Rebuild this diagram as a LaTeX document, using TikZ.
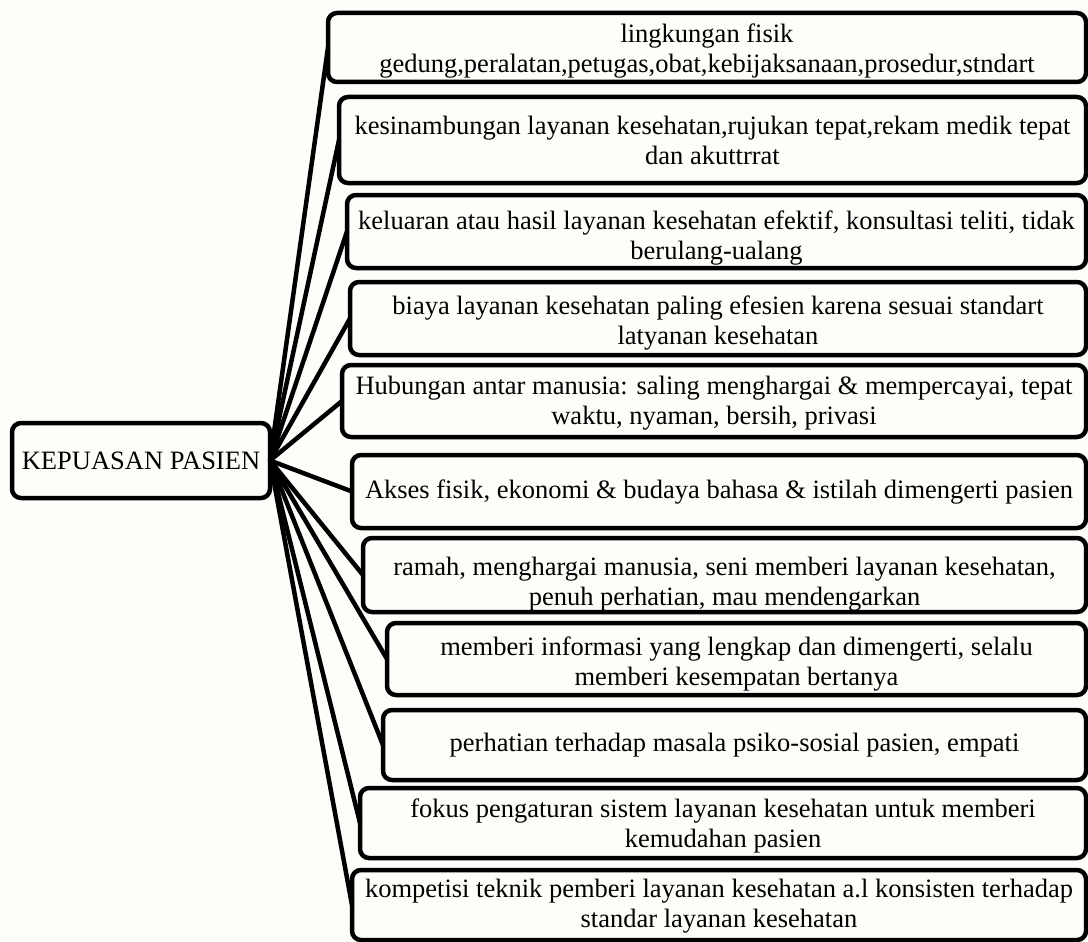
\documentclass[tikz,border=0pt]{standalone}
\usepackage{fontspec}
\setmainfont{Liberation Serif}
\definecolor{bgcream}{RGB}{253,253,249}
\begin{document}
\begin{tikzpicture}[x=1pt,y=-1pt,
  box/.style={draw=black, line width=4.5pt, rounded corners=9pt,
    inner sep=0pt, outer sep=0pt, anchor=west},
  txt/.style={align=center, inner sep=0pt, font=\fontsize{26.5}{30}\selectfont},
  link/.style={draw=black, line width=4.5pt}]
\clip (0,0) rectangle (1088,942);
\fill[bgcream] (0,0) rectangle (1088,942);
\node[box, txt, minimum width=258pt, minimum height=75pt] (c) at (12,460.5) {KEPUASAN PASIEN};
\node[box, minimum width=758pt, minimum height=69pt] (b1) at (328,47.5) {};
\node[box, minimum width=747pt, minimum height=86pt] (b2) at (339,140) {};
\node[box, minimum width=739pt, minimum height=73pt] (b3) at (347,231.5) {};
\node[box, minimum width=736pt, minimum height=73pt] (b4) at (350,318.5) {};
\node[box, minimum width=744pt, minimum height=72pt] (b5) at (342,401) {};
\node[box, minimum width=734pt, minimum height=73pt] (b6) at (352,491.5) {};
\node[box, minimum width=723pt, minimum height=74pt] (b7) at (363,575) {};
\node[box, minimum width=699pt, minimum height=72pt] (b8) at (387,659) {};
\node[box, minimum width=703pt, minimum height=70pt] (b9) at (383,745) {};
\node[box, minimum width=726pt, minimum height=70pt] (b10) at (360,823) {};
\node[box, minimum width=734pt, minimum height=70pt] (b11) at (352,905) {};
\node[txt] (t1) at ([yshift=-4pt]b1.center)
  {lingkungan fisik\\gedung,peralatan,petugas,obat,kebijaksanaan,prosedur,stndart};
\node[txt] (t2) at ([yshift=0pt]b2.center)
  {kesinambungan layanan kesehatan,rujukan tepat,rekam medik tepat\\dan akuttrrat};
\node[txt] (t3) at ([yshift=-7pt]b3.center)
  {keluaran atau hasil layanan kesehatan efektif, konsultasi teliti, tidak\\berulang-ualang};
\node[txt] (t4) at ([yshift=-5pt]b4.center)
  {biaya layanan kesehatan paling efesien karena sesuai standart\\latyanan kesehatan};
\node[txt] (t5) at ([yshift=-2pt]b5.center)
  {Hubungan antar manusia: saling menghargai \& mempercayai, tepat\\waktu, nyaman, bersih, privasi};
\node[txt] (t6) at ([yshift=-1pt]b6.center)
  {Akses fisik, ekonomi \& budaya bahasa \& istilah dimengerti pasien};
\node[txt] (t7) at ([yshift=-9pt]b7.center)
  {ramah, menghargai manusia, seni memberi layanan kesehatan,\\penuh perhatian, mau mendengarkan};
\node[txt] (t8) at ([yshift=-5pt]b8.center)
  {memberi informasi yang lengkap dan dimengerti, selalu\\memberi kesempatan bertanya};
\node[txt] (t9) at ([yshift=0pt]b9.center)
  {perhatian terhadap masala psiko-sosial pasien, empati};
\node[txt] (t10) at ([yshift=-3pt]b10.center)
  {fokus pengaturan sistem layanan kesehatan untuk memberi\\kemudahan pasien};
\node[txt] (t11) at ([yshift=-1pt]b11.center)
  {kompetisi teknik pemberi layanan kesehatan a.l konsisten terhadap\\standar layanan kesehatan};
\foreach \i in {1,...,11} {
  \draw[link] (c.east) -- (b\i.west);
}
\end{tikzpicture}
\end{document}
